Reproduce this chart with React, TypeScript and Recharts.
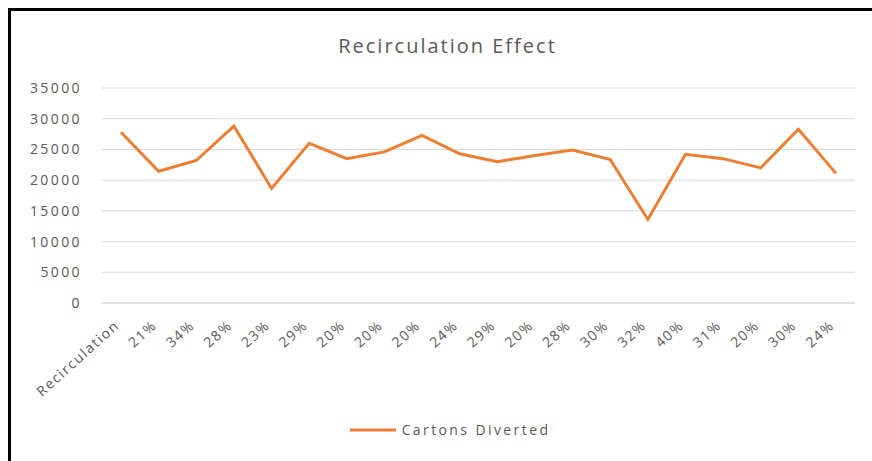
import { CartesianGrid, Legend, Line, LineChart, XAxis, YAxis } from 'recharts'

const categories = [
  'Recirculation', '21%', '34%', '28%', '23%', '29%', '20%', '20%', '20%', '24%',
  '29%', '20%', '28%', '30%', '32%', '40%', '31%', '20%', '30%', '24%',
]
const cartonsDiverted = [
  27800, 21450, 23200, 28800, 18650, 26000, 23500, 24600, 27300, 24300,
  23000, 24000, 24900, 23350, 13600, 24200, 23500, 22000, 28300, 21100,
]
const yTicks = [0, 5000, 10000, 15000, 20000, 25000, 30000, 35000]

const data = categories.map((name, i) => ({ id: i, name, value: cartonsDiverted[i] }))

const FONT = '"Open Sans", sans-serif'
const GREY = '#595959'
const ORANGE = '#ED7D31'

const XTick = (props: any) => {
  const { x, y, payload } = props
  return (
    <g transform={`translate(${x - 4},${y + 12})`}>
      <text
        x={0}
        y={0}
        dy="0.35em"
        textAnchor="end"
        transform="rotate(-42)"
        fill={GREY}
        fontSize={14}
        letterSpacing={1.6}
        fontFamily={FONT}
      >
        {categories[payload.value]}
      </text>
    </g>
  )
}

const LegendContent = () => (
  <div style={{ display: 'flex', justifyContent: 'center', alignItems: 'center', paddingLeft: 32 }}>
    <svg width={50} height={10}>
      <line x1={2} y1={5} x2={48} y2={5} stroke={ORANGE} strokeWidth={3} />
    </svg>
    <span style={{ color: GREY, fontSize: 14, letterSpacing: 2.4, fontFamily: FONT, marginLeft: 4 }}>
      Cartons Diverted
    </span>
  </div>
)

export default function App() {
  return (
    <div
      style={{
        position: 'fixed',
        top: 8,
        left: 8,
        width: 861,
        height: 450,
        borderTop: '3px solid #000',
        borderLeft: '3px solid #000',
        background: '#fff',
      }}
    >
      <div
        style={{
          position: 'absolute',
          top: 21,
          left: 6,
          width: '100%',
          textAlign: 'center',
          fontFamily: FONT,
          fontSize: 20,
          letterSpacing: 2,
          color: GREY,
        }}
      >
        Recirculation Effect
      </div>
      <LineChart width={861} height={450} data={data} margin={{ top: 77, right: 17, left: 0, bottom: 11 }}>
        <CartesianGrid vertical={false} stroke="#d9d9d9" />
        <XAxis
          dataKey="id"
          interval={0}
          height={117}
          padding={{ left: 19, right: 19 }}
          tick={<XTick />}
          tickLine={false}
          axisLine={{ stroke: '#d9d9d9' }}
        />
        <YAxis
          width={91}
          domain={[0, 35000]}
          ticks={yTicks}
          interval={0}
          tickLine={false}
          axisLine={false}
          tickMargin={14}
          tick={{ fill: GREY, fontSize: 14, fontFamily: FONT, letterSpacing: 2.4 }}
        />
        <Legend verticalAlign="bottom" height={30} content={<LegendContent />} />
        <Line
          type="linear"
          dataKey="value"
          name="Cartons Diverted"
          stroke={ORANGE}
          strokeWidth={3}
          dot={false}
          isAnimationActive={false}
        />
      </LineChart>
    </div>
  )
}
